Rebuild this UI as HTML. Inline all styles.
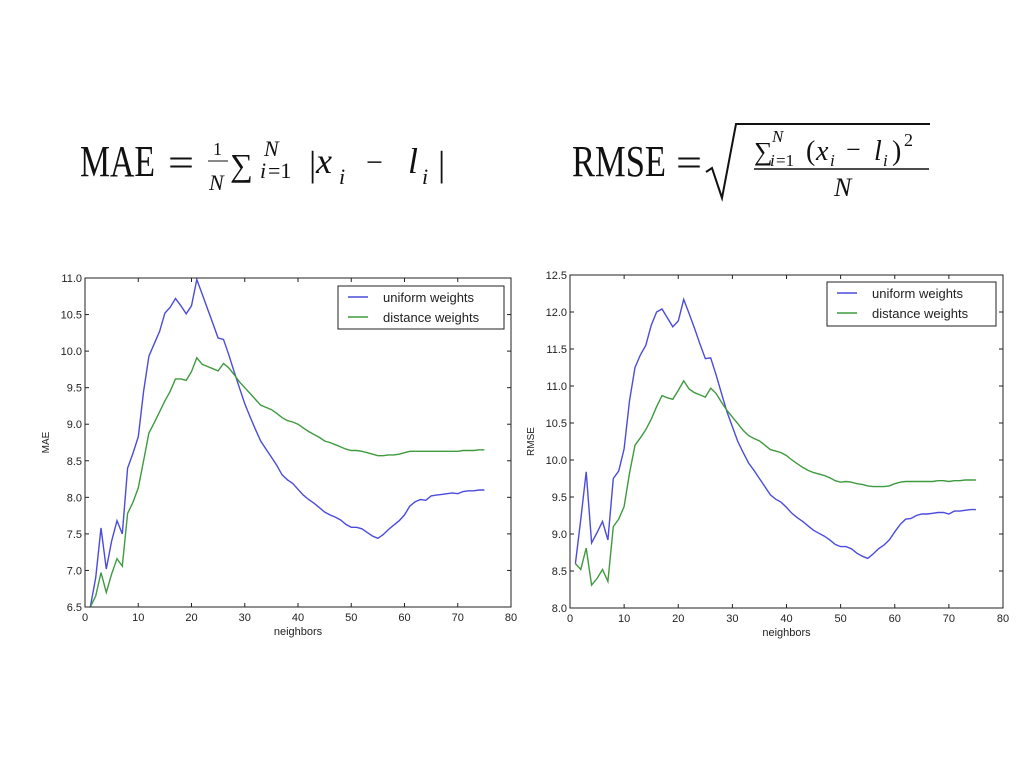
<!DOCTYPE html>
<html><head><meta charset="utf-8"><style>
html,body{margin:0;padding:0;background:#fff;}
svg{display:block;}
</style></head><body>
<svg id="s" width="1024" height="767" xmlns="http://www.w3.org/2000/svg" font-family="Liberation Sans, sans-serif">
<rect width="1024" height="767" fill="#fff"/>
<g font-family="Liberation Serif, serif" fill="#111">
<text x="80" y="176" font-size="44" textLength="75" lengthAdjust="spacingAndGlyphs">MAE</text>
<text x="168" y="176" font-size="40" textLength="26" lengthAdjust="spacingAndGlyphs">=</text>
<text x="213" y="155" font-size="18">1</text>
<line x1="208" y1="161" x2="228" y2="161" stroke="#111" stroke-width="1"/>
<text x="209" y="190" font-size="22" font-style="italic">N</text>
<text x="230" y="176" font-size="32">∑</text>
<text x="264" y="156" font-size="22" font-style="italic">N</text>
<text x="260" y="178" font-size="22" font-style="italic">i</text>
<text x="268" y="178" font-size="22">=1</text>
<text x="309" y="176" font-size="36">|</text>
<text x="316" y="173" font-size="36" font-style="italic">x</text>
<text x="339" y="184" font-size="22" font-style="italic">i</text>
<text x="366" y="172" font-size="30">−</text>
<text x="408" y="173" font-size="36" font-style="italic">l</text>
<text x="422" y="184" font-size="22" font-style="italic">i</text>
<text x="438" y="176" font-size="36">|</text>
<text x="572" y="176" font-size="44" textLength="94" lengthAdjust="spacingAndGlyphs">RMSE</text>
<text x="676" y="176" font-size="40" textLength="26" lengthAdjust="spacingAndGlyphs">=</text>
<polyline points="706,172 712,168 722,198 736,124 930,124" fill="none" stroke="#111" stroke-width="2"/>
<text x="754" y="160" font-size="26">∑</text>
<text x="772" y="142" font-size="17" font-style="italic">N</text>
<text x="770" y="166" font-size="17" font-style="italic">i</text>
<text x="776" y="166" font-size="17">=1</text>
<text x="806" y="160" font-size="28">(</text>
<text x="816" y="160" font-size="28" font-style="italic">x</text>
<text x="830" y="166" font-size="17" font-style="italic">i</text>
<text x="846" y="158" font-size="26">−</text>
<text x="874" y="160" font-size="28" font-style="italic">l</text>
<text x="883" y="166" font-size="17" font-style="italic">i</text>
<text x="892" y="160" font-size="28">)</text>
<text x="904" y="146" font-size="18">2</text>
<line x1="754" y1="169" x2="929" y2="169" stroke="#111" stroke-width="1.5"/>
<text x="834" y="196" font-size="26" font-style="italic">N</text>
</g>
<g id="charts"></g>
</svg>
<script>
const ns="http://www.w3.org/2000/svg";
const g=document.getElementById('charts');
function el(t,a,txt){const e=document.createElementNS(ns,t);for(const k in a)e.setAttribute(k,a[k]);if(txt!==undefined)e.textContent=txt;g.appendChild(e);return e;}
function chart(o){
 const {x0,x1,y0,y1,ymin,ymax,ystep,ylab,ser,leg}=o;
 const X=v=>x0+(v/80)*(x1-x0), Y=v=>y1-(v-ymin)/(ymax-ymin)*(y1-y0);
 for(const s of ser){
  el('polyline',{points:s.d.map((v,i)=>X(i+1).toFixed(1)+','+Y(v).toFixed(1)).join(' '),fill:'none',stroke:s.c,'stroke-width':1.4});
 }
 el('rect',{x:x0,y:y0,width:x1-x0,height:y1-y0,fill:'none',stroke:'#222','stroke-width':1});
 for(let v=0;v<=80;v+=10){const x=X(v);
  el('line',{x1:x,y1:y1,x2:x,y2:y1-4,stroke:'#222'});el('line',{x1:x,y1:y0,x2:x,y2:y0+4,stroke:'#222'});
  el('text',{x:x,y:y1+14,'font-size':11,'text-anchor':'middle',fill:'#222'},String(v));}
 for(let v=ymin;v<=ymax+1e-6;v+=ystep){const y=Y(v);
  el('line',{x1:x0,y1:y,x2:x0+4,y2:y,stroke:'#222'});el('line',{x1:x1,y1:y,x2:x1-4,y2:y,stroke:'#222'});
  el('text',{x:x0-3,y:y+4,'font-size':11,'text-anchor':'end',fill:'#222'},v.toFixed(1));}
 el('text',{x:(x0+x1)/2,y:y1+28,'font-size':11,'text-anchor':'middle',fill:'#222'},'neighbors');
 el('text',{x:0,y:0,'font-size':10,'text-anchor':'middle',fill:'#222',transform:`translate(${x0-36},${(y0+y1)/2}) rotate(-90)`},ylab);
 const [lx,ly,lw,lh]=leg;
 el('rect',{x:lx,y:ly,width:lw,height:lh,fill:'#fff',stroke:'#222','stroke-width':1});
 el('line',{x1:lx+10,y1:ly+11,x2:lx+30,y2:ly+11,stroke:ser[0].c,'stroke-width':1.4});
 el('line',{x1:lx+10,y1:ly+31,x2:lx+30,y2:ly+31,stroke:ser[1].c,'stroke-width':1.4});
 el('text',{x:lx+45,y:ly+16,'font-size':13,fill:'#222'},'uniform weights');
 el('text',{x:lx+45,y:ly+36,'font-size':13,fill:'#222'},'distance weights');
}
const B='#4b4bdc',G='#3f9a3f';
const mu=[6.5,6.9,7.58,7.02,7.4,7.68,7.5,8.4,8.6,8.83,9.45,9.93,10.1,10.27,10.52,10.6,10.72,10.62,10.51,10.62,10.98,10.78,10.58,10.38,10.18,10.16,9.95,9.72,9.5,9.28,9.1,8.93,8.77,8.66,8.55,8.44,8.31,8.24,8.19,8.11,8.03,7.97,7.92,7.86,7.8,7.76,7.73,7.69,7.63,7.59,7.59,7.57,7.52,7.47,7.44,7.49,7.56,7.62,7.68,7.76,7.88,7.94,7.97,7.96,8.02,8.03,8.04,8.05,8.06,8.05,8.08,8.09,8.09,8.1,8.1];
const md=[6.5,6.65,6.97,6.7,6.95,7.16,7.06,7.78,7.93,8.13,8.5,8.88,9.02,9.17,9.32,9.45,9.62,9.62,9.6,9.72,9.91,9.82,9.79,9.76,9.73,9.83,9.77,9.68,9.58,9.5,9.42,9.34,9.26,9.23,9.2,9.15,9.09,9.05,9.03,9.0,8.95,8.9,8.86,8.82,8.77,8.75,8.72,8.69,8.66,8.64,8.64,8.63,8.61,8.59,8.57,8.57,8.58,8.58,8.59,8.61,8.63,8.63,8.63,8.63,8.63,8.63,8.63,8.63,8.63,8.63,8.64,8.64,8.64,8.65,8.65];
const ru=[8.6,9.2,9.84,8.88,9.02,9.17,8.92,9.75,9.85,10.15,10.8,11.25,11.42,11.55,11.82,12.0,12.04,11.92,11.8,11.88,12.17,11.98,11.78,11.57,11.37,11.38,11.15,10.9,10.65,10.45,10.25,10.1,9.96,9.86,9.75,9.64,9.53,9.47,9.43,9.36,9.28,9.22,9.17,9.11,9.05,9.01,8.97,8.92,8.86,8.83,8.83,8.8,8.74,8.7,8.67,8.73,8.8,8.85,8.92,9.03,9.13,9.2,9.21,9.25,9.27,9.27,9.28,9.29,9.29,9.27,9.31,9.31,9.32,9.33,9.33];
const rd=[8.6,8.52,8.81,8.31,8.4,8.52,8.36,9.1,9.2,9.37,9.82,10.2,10.3,10.41,10.55,10.72,10.87,10.84,10.82,10.94,11.07,10.96,10.91,10.88,10.85,10.97,10.9,10.78,10.67,10.58,10.49,10.4,10.33,10.29,10.26,10.2,10.14,10.12,10.1,10.06,10.0,9.95,9.9,9.86,9.83,9.81,9.79,9.76,9.72,9.7,9.71,9.7,9.68,9.67,9.65,9.64,9.64,9.64,9.65,9.68,9.7,9.71,9.71,9.71,9.71,9.71,9.71,9.72,9.72,9.71,9.72,9.72,9.73,9.73,9.73];
chart({x0:85,x1:511,y0:278,y1:607,ymin:6.5,ymax:11.0,ystep:0.5,ylab:'MAE',ser:[{d:mu,c:B},{d:md,c:G}],leg:[338,286,166,43]});
chart({x0:570,x1:1003,y0:275,y1:608,ymin:8.0,ymax:12.5,ystep:0.5,ylab:'RMSE',ser:[{d:ru,c:B},{d:rd,c:G}],leg:[827,282,169,44]});
</script>
</body></html>
